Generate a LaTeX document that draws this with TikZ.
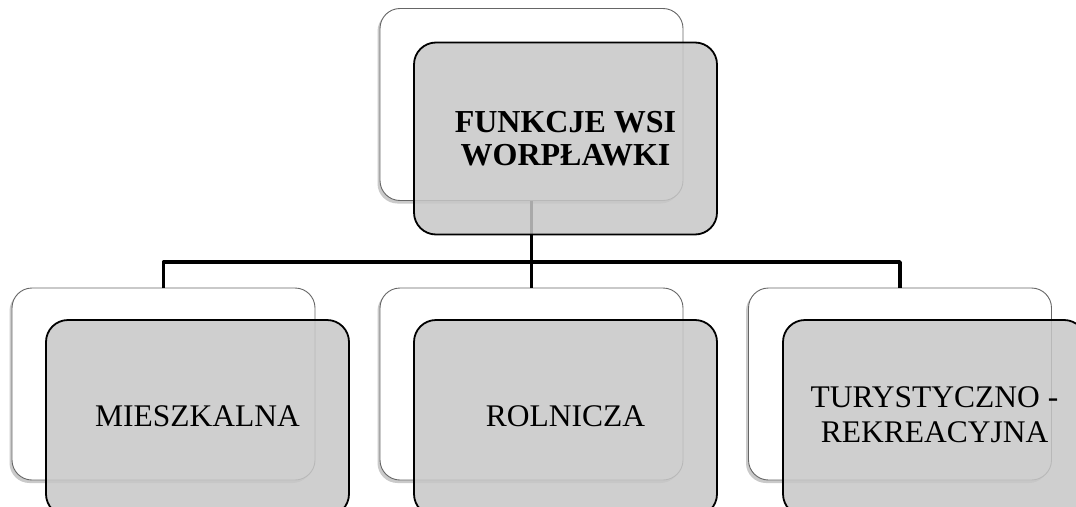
\documentclass[tikz,border=0pt]{standalone}
\usepackage{fontspec}
\setmainfont{Liberation Serif}
\usetikzlibrary{shadows}
\begin{document}
\begin{tikzpicture}[x=1pt,y=-1pt,
  backbox/.style={draw=gray!80!black, line width=0.9pt, fill=white, rounded corners=20pt,
    minimum width=303pt, minimum height=192pt, inner sep=0pt, outer sep=0pt,
    drop shadow={shadow xshift=-2.5pt, shadow yshift=-3pt, opacity=0.35, fill=black!60}},
  frontbox/.style={draw=black, line width=1.8pt, fill=black!22, fill opacity=0.85, text opacity=1,
    rounded corners=22pt, minimum width=303pt, minimum height=192pt, inner sep=0pt, outer sep=0pt,
    align=center},
  leafbox/.style={frontbox, minimum height=196pt},
  conn/.style={line width=3.6pt, black, line join=round},
  titletext/.style={font=\fontsize{32}{33}\selectfont\bfseries},
  leaftext/.style={font=\fontsize{31.5}{35}\selectfont}
]
\useasboundingbox (0,0) rectangle (1076,506);
\clip (0,0) rectangle (1076,506);
\coordinate (bus) at (531.5,262);
% back boxes
\node[backbox] (tb) at (531.5,104.5) {};
\node[backbox] (lb) at (163.5,384) {};
\node[backbox] (mb) at (531.5,384) {};
\node[backbox] (rb) at (900,384) {};
% connectors
\draw[conn] (tb.south) -- (mb.north);
\draw[conn] (lb.north) -- (lb.north |- bus) -- (rb.north |- bus) -- (rb.north);
% front boxes
\node[frontbox, titletext] (tf) at (565.5,138.5) {FUNKCJE WSI\\WORPŁAWKI};
\node[leafbox, leaftext] (lf) at (197.5,418) {\raisebox{4pt}{MIESZKALNA}};
\node[leafbox, leaftext] (mf) at (565.5,418) {\raisebox{4pt}{ROLNICZA}};
\node[leafbox, leaftext] (rf) at (934.5,418) {\raisebox{4pt}{\begin{tabular}{@{}c@{}}TURYSTYCZNO -\\REKREACYJNA\end{tabular}}};
\end{tikzpicture}
\end{document}
